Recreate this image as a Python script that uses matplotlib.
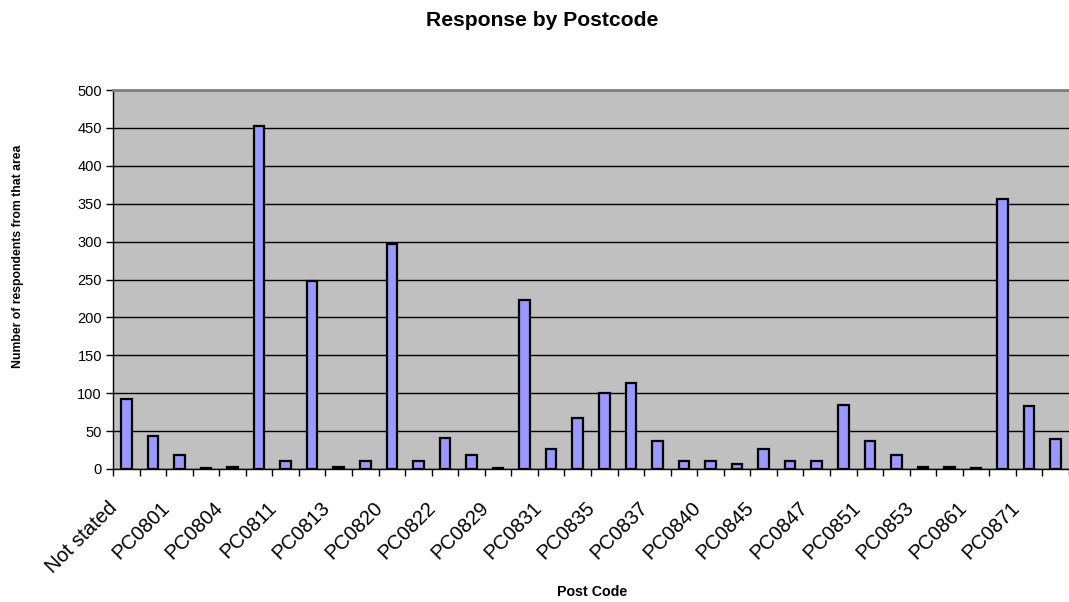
import matplotlib
matplotlib.use("Agg")
import matplotlib.pyplot as plt
import matplotlib.transforms as mtransforms
import numpy as np

categories = ["Not stated", "PC0800", "PC0801", "PC0803", "PC0804", "PC0810",
              "PC0811", "PC0812", "PC0813", "PC0815", "PC0820", "PC0821",
              "PC0822", "PC0828", "PC0829", "PC0830", "PC0831", "PC0832",
              "PC0835", "PC0836", "PC0837", "PC0838", "PC0840", "PC0841",
              "PC0845", "PC0846", "PC0847", "PC0850", "PC0851", "PC0852",
              "PC0853", "PC0860", "PC0861", "PC0870", "PC0871", "PC0872"]
values = [93, 43, 18, 1, 3, 453, 11, 248, 3, 10, 297, 11,
          41, 18, 1, 223, 26, 67, 100, 113, 37, 10, 11, 7,
          26, 11, 10, 84, 37, 18, 2, 2, 1, 356, 83, 40]
yticks = [0, 50, 100, 150, 200, 250, 300, 350, 400, 450, 500]

plt.rcParams['font.family'] = ['Liberation Sans', 'DejaVu Sans']

W, H = 1069, 602
fig = plt.figure(figsize=(W / 100, H / 100), dpi=100)
fig.patch.set_facecolor('white')
ax = fig.add_axes([113 / W, (H - 469) / H, (W - 113) / W, (469 - 90) / H])
ax.set_facecolor('#C0C0C0')

x = np.arange(len(categories))
ax.bar(x, values, width=0.40, color='#9999FF', edgecolor='black',
       linewidth=1.6, zorder=3)

ax.set_xlim(-0.5, len(categories) - 0.5)
ax.set_ylim(0, 500)
ax.set_yticks(yticks)
ax.set_yticklabels([str(v) for v in yticks], fontsize=10.5)
ax.yaxis.grid(True, color='black', linewidth=1.0, zorder=1)
ax.set_axisbelow(True)
ax.tick_params(axis='y', direction='out', length=5, width=1, color='black', pad=3)

# major ticks at category centres (labels only), minor ticks at boundaries
ax.set_xticks(x[::2])
ax.set_xticklabels(categories[::2], fontsize=14.5, rotation=45, ha='right',
                   va='top', rotation_mode='anchor')
ax.tick_params(axis='x', which='major', length=0, pad=21)
ax.set_xticks(np.arange(-0.5, len(categories), 1.0), minor=True)
ax.tick_params(axis='x', which='minor', direction='out', length=5, width=1,
               color='black')
offset = mtransforms.ScaledTranslation(-19 / 100, 0, fig.dpi_scale_trans)
for lab in ax.get_xticklabels():
    lab.set_transform(lab.get_transform() + offset)

for s in ['left', 'bottom']:
    ax.spines[s].set_color('black')
    ax.spines[s].set_linewidth(1.0)
ax.spines['top'].set_color('#808080')
ax.spines['top'].set_linewidth(2.0)
ax.spines['right'].set_visible(False)

fig.text(542 / W, 1 - 20 / H, "Response by Postcode", ha='center', va='center',
         fontsize=15.2, fontweight='bold')
fig.text(18 / W, 1 - 256 / H, "Number of respondents from that area",
         ha='center', va='center', rotation=90, fontsize=8.8, fontweight='bold')
fig.text(592 / W, 1 - 592 / H, "Post Code", ha='center', va='center',
         fontsize=10.3, fontweight='bold')

fig.savefig("out.png", dpi=100)
